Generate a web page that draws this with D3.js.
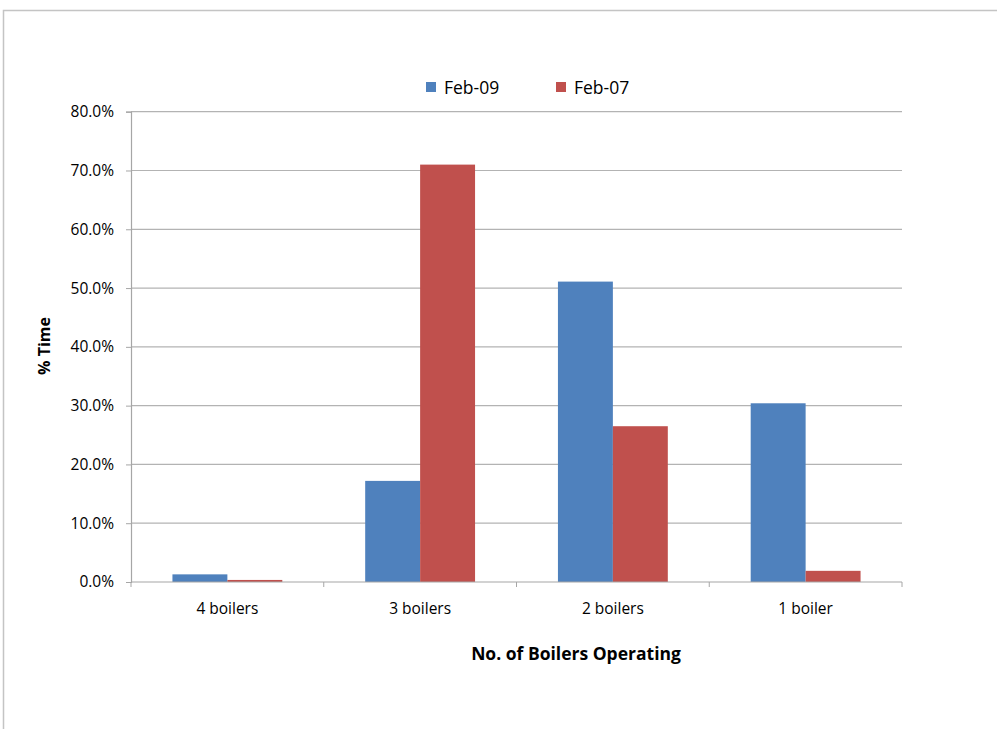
<!DOCTYPE html>
<html>
<head>
<meta charset="utf-8">
<script src="https://cdn.jsdelivr.net/npm/d3@7"></script>
<style>
  body { margin: 0; background: #fff; }
  text { font-family: "Open Sans", "Liberation Sans", sans-serif; fill: #000; }
</style>
</head>
<body>
<svg id="chart" width="997" height="729"></svg>
<script>
// data
var categories = ["4 boilers", "3 boilers", "2 boilers", "1 boiler"];
var seriesNames = ["Feb-09", "Feb-07"];
var feb09 = [1.3, 17.2, 51.1, 30.4];
var feb07 = [0.35, 71.0, 26.5, 1.9];
var yTicks = [0, 10, 20, 30, 40, 50, 60, 70, 80];
var colors = ["#4f81bd", "#c0504d"];

var svg = d3.select("#chart");

// outer frame
svg.append("path")
    .attr("d", "M3.5,729 L3.5,10.5 L997,10.5")
    .attr("fill", "none")
    .attr("stroke", "#c4c4c4")
    .attr("stroke-width", 1.5);

var margin = {left: 131, right: 902, top: 111.7, bottom: 582};

var x = d3.scaleBand()
    .domain(categories)
    .range([margin.left, margin.right])
    .paddingInner(0.43)
    .paddingOuter(0.215);

var xs = d3.scaleBand()
    .domain(seriesNames)
    .range([0, x.bandwidth()]);

var y = d3.scaleLinear()
    .domain([0, 80])
    .range([margin.bottom, margin.top]);

// gridlines
svg.append("g")
    .selectAll("line")
    .data(yTicks.slice(1))
    .join("line")
    .attr("x1", margin.left)
    .attr("x2", margin.right)
    .attr("y1", d => y(d))
    .attr("y2", d => y(d))
    .attr("stroke", "#b3b3b3")
    .attr("stroke-width", 1.2);

// bars
var rows = categories.map((c, i) => ({cat: c, vals: [feb09[i], feb07[i]]}));
svg.append("g")
    .selectAll("g")
    .data(rows)
    .join("g")
    .attr("transform", d => "translate(" + x(d.cat) + ",0)")
    .selectAll("rect")
    .data(d => d.vals.map((v, j) => ({name: seriesNames[j], v: v, j: j})))
    .join("rect")
    .attr("x", d => xs(d.name))
    .attr("width", xs.bandwidth())
    .attr("y", d => y(d.v))
    .attr("height", d => y(0) - y(d.v))
    .attr("fill", d => colors[d.j]);

// y axis
var yAxis = d3.axisLeft(y)
    .tickValues(yTicks)
    .tickFormat(d => d.toFixed(1) + "%")
    .tickSize(5)
    .tickPadding(12);
var gy = svg.append("g")
    .attr("transform", "translate(" + margin.left + ",0)")
    .call(yAxis);
gy.select(".domain").attr("stroke", "#a6a6a6").attr("stroke-width", 1.2);
gy.selectAll(".tick line").attr("stroke", "#a6a6a6");
gy.selectAll(".tick text").style("font-size", "15.5px").attr("fill", "#000");

// x axis
var gx = svg.append("g")
    .attr("transform", "translate(0," + margin.bottom + ")");
gx.append("line")
    .attr("x1", margin.left).attr("x2", margin.right)
    .attr("stroke", "#a6a6a6").attr("stroke-width", 1.2);
gx.selectAll("line.tk")
    .data(d3.range(categories.length + 1))
    .join("line")
    .attr("class", "tk")
    .attr("x1", i => margin.left + i * (margin.right - margin.left) / categories.length)
    .attr("x2", i => margin.left + i * (margin.right - margin.left) / categories.length)
    .attr("y1", 0).attr("y2", 5)
    .attr("stroke", "#a6a6a6");
gx.selectAll("text")
    .data(categories)
    .join("text")
    .attr("x", d => x(d) + x.bandwidth() / 2)
    .attr("y", 32)
    .attr("text-anchor", "middle")
    .style("font-size", "15.5px")
    .text(d => d);

// axis titles
svg.append("text")
    .attr("transform", "translate(50,346) rotate(-90)")
    .attr("text-anchor", "middle")
    .style("font-size", "16px")
    .style("font-weight", "bold")
    .text("% Time");

svg.append("text")
    .attr("x", 576)
    .attr("y", 660)
    .attr("text-anchor", "middle")
    .style("font-size", "17.5px")
    .style("font-weight", "bold")
    .text("No. of Boilers Operating");

// legend
var legendX = [426, 556];
var lg = svg.append("g")
    .selectAll("g")
    .data(seriesNames)
    .join("g")
    .attr("transform", (d, i) => "translate(" + legendX[i] + ",82)");
lg.append("rect")
    .attr("width", 10).attr("height", 10)
    .attr("fill", (d, i) => colors[i]);
lg.append("text")
    .attr("x", 18).attr("y", 12)
    .style("font-size", "17.5px")
    .text(d => d);
</script>
</body>
</html>
